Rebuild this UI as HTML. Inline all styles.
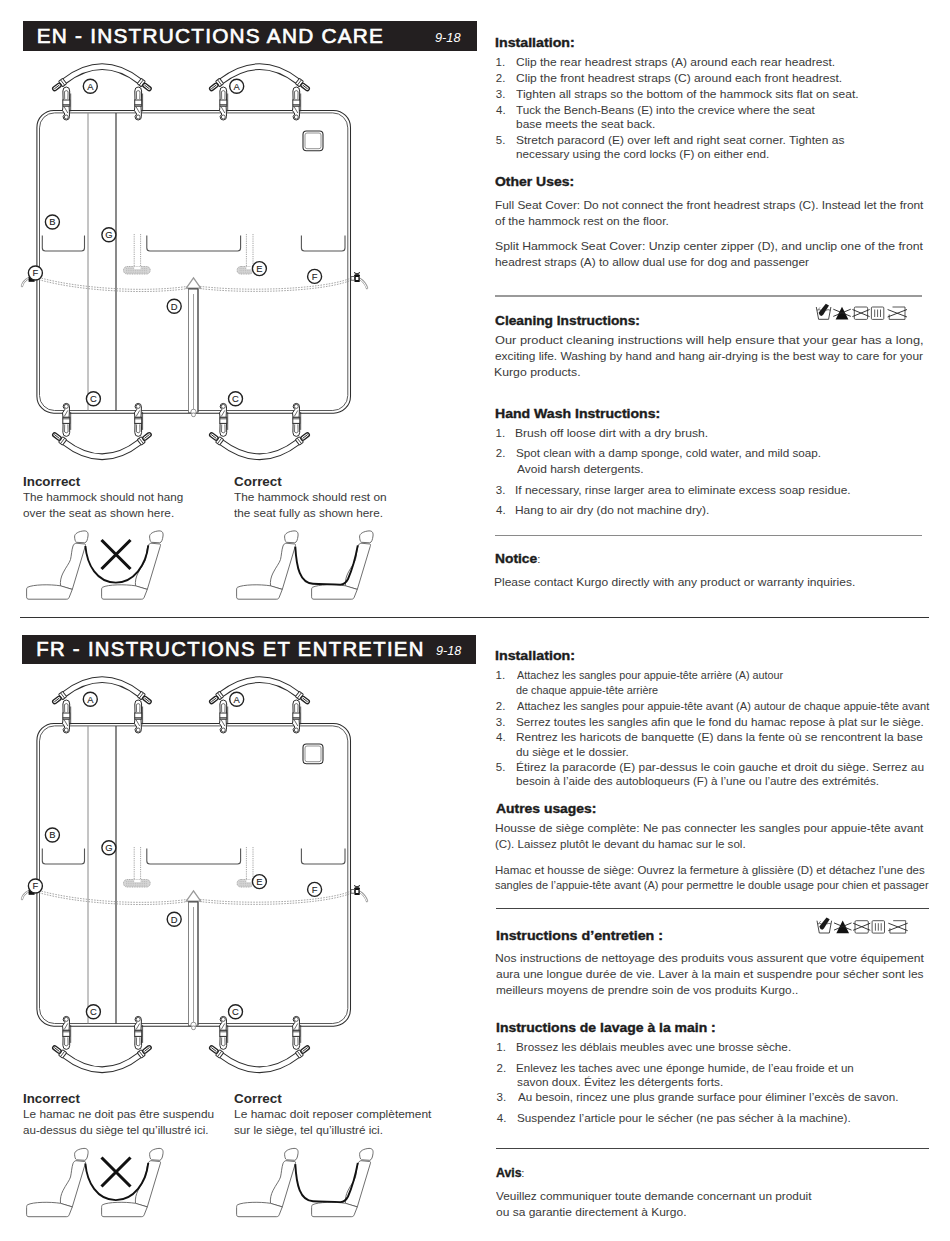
<!DOCTYPE html>
<html><head><meta charset="utf-8">
<style>
html,body{margin:0;padding:0;background:#fff;}
body{width:950px;height:1241px;position:relative;overflow:hidden;font-family:"Liberation Sans",sans-serif;}
.t{position:absolute;white-space:nowrap;transform-origin:0 0;}
.bar{position:absolute;background:#231f20;}
.hr{position:absolute;}
svg{position:absolute;left:0;top:0;}
</style></head><body>
<div class="bar" style="left:22.5px;top:21px;width:454px;height:29.5px"></div>
<div class="bar" style="left:22.4px;top:634.9px;width:454.1px;height:29.1px"></div>
<div class="hr" style="left:495px;top:295px;width:427px;height:1.5px;background:#9a9a9a"></div>
<div class="hr" style="left:495px;top:535px;width:427px;height:1px;background:#8a8a8a"></div>
<div class="hr" style="left:20px;top:617px;width:909px;height:1.2px;background:#333"></div>
<div class="hr" style="left:496px;top:908.3px;width:433px;height:1.2px;background:#444"></div>
<div class="hr" style="left:496px;top:1148.3px;width:433px;height:1.2px;background:#444"></div>
<svg width="950" height="1241" viewBox="0 0 950 1241">
<rect x="36.9" y="110.4" width="313.6" height="302.8" rx="17" fill="#fff" stroke="#2e2e2e" stroke-width="1.05"/><rect x="39.5" y="112.9" width="308.3" height="297.6" rx="15" fill="none" stroke="#5a5a5a" stroke-width="1.0"/><path d="M88 113 V410.5" stroke="#8a8a8a" stroke-width="1"/><path d="M116 113 V410.5" stroke="#333" stroke-width="1.15"/><rect x="303" y="131" width="20" height="19.7" rx="3.5" fill="none" stroke="#2e2e2e" stroke-width="1.1"/><rect x="305" y="133" width="16" height="15.7" rx="2" fill="none" stroke="#777" stroke-width="0.8"/><path d="M42.3 235.5 V248 Q42.3 251 45.3 251 H81.5 Q84.5 251 84.5 248 V235.5" fill="none" stroke="#555" stroke-width="1.1"/><path d="M146.8 235.5 V248 Q146.8 251 149.8 251 H237.6 Q240.6 251 240.6 248 V235.5" fill="none" stroke="#555" stroke-width="1.1"/><path d="M301.4 235.5 V248 Q301.4 251 304.4 251 H342 Q345 251 345 248 V235.5" fill="none" stroke="#555" stroke-width="1.1"/><path d="M134.2 234 V268 M140.6 234 V268" stroke="#9a9a9a" stroke-width="0.9" stroke-dasharray="1.2 1" fill="none"/><rect x="123.5" y="266.5" width="26.69999999999999" height="7.5" rx="3.7" fill="#d6d6d6" stroke="#a5a5a5" stroke-width="1" stroke-dasharray="1 0.7"/><path d="M126 268.6 H147.7 M126 270.4 H147.7 M126 272.2 H147.7" stroke="#b0b0b0" stroke-width="0.7" stroke-dasharray="1 0.8"/><rect x="134.2" y="266.6" width="6.400000000000006" height="2.6" fill="#fff"/><path d="M246.4 234 V268 M253 234 V268" stroke="#9a9a9a" stroke-width="0.9" stroke-dasharray="1.2 1" fill="none"/><rect x="237.1" y="266.5" width="15.900000000000006" height="7.5" rx="3.7" fill="#d6d6d6" stroke="#a5a5a5" stroke-width="1" stroke-dasharray="1 0.7"/><path d="M239.6 268.6 H250.5 M239.6 270.4 H250.5 M239.6 272.2 H250.5" stroke="#b0b0b0" stroke-width="0.7" stroke-dasharray="1 0.8"/><rect x="246.4" y="266.6" width="6.599999999999994" height="2.6" fill="#fff"/><path d="M39 277.5 C80 289 150 293 193 285.5 C240 292 320 290 350 278.5" fill="none" stroke="#9c9c9c" stroke-width="0.9" stroke-dasharray="1.6 1.2"/><path d="M39 279.7 C80 291.2 150 295.2 193 287.7 C240 294.2 320 292.2 350 280.7" fill="none" stroke="#9c9c9c" stroke-width="0.9" stroke-dasharray="1.6 1.2"/><path d="M186.3 288.2 L193.5 278 L200.7 288.2 Z" fill="#fff" stroke="#999" stroke-width="1.3"/><rect x="188.4" y="288.6" width="9.6" height="124" fill="#fff" stroke="#666" stroke-width="0.8"/><path d="M198 289 V412" stroke="#444" stroke-width="1.1"/><path d="M188.4 288.9 H198" stroke="#555" stroke-width="1.3"/><path d="M193.5 294 V412" stroke="#777" stroke-width="0.7"/><circle cx="193.5" cy="411.8" r="2.6" fill="#fff" stroke="#888" stroke-width="0.9"/><rect x="191.6" y="413" width="3.8" height="3.6" rx="1.5" fill="#fff" stroke="#888" stroke-width="0.9"/><path d="M29 278 Q23 281 22 286" stroke="#9a9a9a" stroke-width="2.4" fill="none" stroke-linecap="round"/><path d="M29 278 Q23 281 22 286" stroke="#fff" stroke-width="1" fill="none" stroke-linecap="round"/><rect x="28.6" y="277" width="6" height="4.8" fill="#111"/><path d="M360 279 Q365 282 367 288" stroke="#9a9a9a" stroke-width="2.4" fill="none" stroke-linecap="round"/><path d="M360 279 Q365 282 367 288" stroke="#fff" stroke-width="1" fill="none" stroke-linecap="round"/><rect x="351" y="276.6" width="3.4" height="3.6" fill="#fff" stroke="#444" stroke-width="0.8"/><rect x="354.5" y="275" width="5.2" height="7" fill="#111"/><path d="M354 272.5 L360 275.5 M360 272.5 L354 275.5" stroke="#111" stroke-width="1"/><rect x="355.8" y="277" width="2.6" height="3" fill="#fff"/><path d="M64.20 81.3 Q102.25 52.0 139.70 81.3" stroke="#2e2e2e" stroke-width="6.6" fill="none"/><path d="M64.20 81.3 Q102.25 52.0 139.70 81.3" stroke="#fff" stroke-width="4.6" fill="none"/><g transform="translate(64.20 81.3) rotate(142.4)"><rect x="-0.5" y="-3.4" width="5" height="6.8" rx="0.8" fill="#fff" stroke="#2e2e2e" stroke-width="1"/><path d="M2 -3.2 V3.2" stroke="#2e2e2e" stroke-width="0.8"/><rect x="4.5" y="-2" width="9.5" height="4" rx="2" fill="#fff" stroke="#222" stroke-width="1.35"/><path d="M6 0 H12.5" stroke="#2e2e2e" stroke-width="0.9"/></g><g transform="translate(139.70 81.3) rotate(38.0)"><rect x="-0.5" y="-3.4" width="5" height="6.8" rx="0.8" fill="#fff" stroke="#2e2e2e" stroke-width="1"/><path d="M2 -3.2 V3.2" stroke="#2e2e2e" stroke-width="0.8"/><rect x="4.5" y="-2" width="9.5" height="4" rx="2" fill="#fff" stroke="#222" stroke-width="1.35"/><path d="M6 0 H12.5" stroke="#2e2e2e" stroke-width="0.9"/></g><path d="M221.20 81.3 Q259.80 52.0 297.80 81.3" stroke="#2e2e2e" stroke-width="6.6" fill="none"/><path d="M221.20 81.3 Q259.80 52.0 297.80 81.3" stroke="#fff" stroke-width="4.6" fill="none"/><g transform="translate(221.20 81.3) rotate(142.8)"><rect x="-0.5" y="-3.4" width="5" height="6.8" rx="0.8" fill="#fff" stroke="#2e2e2e" stroke-width="1"/><path d="M2 -3.2 V3.2" stroke="#2e2e2e" stroke-width="0.8"/><rect x="4.5" y="-2" width="9.5" height="4" rx="2" fill="#fff" stroke="#222" stroke-width="1.35"/><path d="M6 0 H12.5" stroke="#2e2e2e" stroke-width="0.9"/></g><g transform="translate(297.80 81.3) rotate(37.6)"><rect x="-0.5" y="-3.4" width="5" height="6.8" rx="0.8" fill="#fff" stroke="#2e2e2e" stroke-width="1"/><path d="M2 -3.2 V3.2" stroke="#2e2e2e" stroke-width="0.8"/><rect x="4.5" y="-2" width="9.5" height="4" rx="2" fill="#fff" stroke="#222" stroke-width="1.35"/><path d="M6 0 H12.5" stroke="#2e2e2e" stroke-width="0.9"/></g><path d="M70.70 93.5 L70.70 111.5" stroke="#2e2e2e" stroke-width="0.8" fill="none"/><path d="M63.10 100.5 L62.90 91 Q62.90 87 66.30 87 Q69.70 87 69.70 91 L69.50 100.5 Z" fill="#fff" stroke="#2e2e2e" stroke-width="1"/><path d="M64.70 99 L64.50 91.5 Q66.30 89.6 68.10 91.5 L67.90 99" fill="none" stroke="#2e2e2e" stroke-width="0.7"/><rect x="62.80" y="100" width="7" height="6.2" fill="#fff" stroke="#2e2e2e" stroke-width="1"/><path d="M62.80 104.6 H69.80" stroke="#2e2e2e" stroke-width="0.8"/><path d="M63.00 106.2 L62.50 110.5 L64.80 114 L63.10 116.5 Q63.10 120 66.30 120 Q69.50 120 69.50 116.5 L69.30 110 L69.10 106.2 Z" fill="#fff" stroke="#2e2e2e" stroke-width="1"/><path d="M64.30 107 L67.80 113" stroke="#2e2e2e" stroke-width="0.7"/><circle cx="66.30" cy="117" r="2" fill="none" stroke="#555" stroke-width="1"/><path d="M142.60 93.5 L142.60 111.5" stroke="#2e2e2e" stroke-width="0.8" fill="none"/><path d="M135.00 100.5 L134.80 91 Q134.80 87 138.20 87 Q141.60 87 141.60 91 L141.40 100.5 Z" fill="#fff" stroke="#2e2e2e" stroke-width="1"/><path d="M136.60 99 L136.40 91.5 Q138.20 89.6 140.00 91.5 L139.80 99" fill="none" stroke="#2e2e2e" stroke-width="0.7"/><rect x="134.70" y="100" width="7" height="6.2" fill="#fff" stroke="#2e2e2e" stroke-width="1"/><path d="M134.70 104.6 H141.70" stroke="#2e2e2e" stroke-width="0.8"/><path d="M134.90 106.2 L134.40 110.5 L136.70 114 L135.00 116.5 Q135.00 120 138.20 120 Q141.40 120 141.40 116.5 L141.20 110 L141.00 106.2 Z" fill="#fff" stroke="#2e2e2e" stroke-width="1"/><path d="M136.20 107 L139.70 113" stroke="#2e2e2e" stroke-width="0.7"/><circle cx="138.20" cy="117" r="2" fill="none" stroke="#555" stroke-width="1"/><path d="M227.70 93.5 L227.70 111.5" stroke="#2e2e2e" stroke-width="0.8" fill="none"/><path d="M220.10 100.5 L219.90 91 Q219.90 87 223.30 87 Q226.70 87 226.70 91 L226.50 100.5 Z" fill="#fff" stroke="#2e2e2e" stroke-width="1"/><path d="M221.70 99 L221.50 91.5 Q223.30 89.6 225.10 91.5 L224.90 99" fill="none" stroke="#2e2e2e" stroke-width="0.7"/><rect x="219.80" y="100" width="7" height="6.2" fill="#fff" stroke="#2e2e2e" stroke-width="1"/><path d="M219.80 104.6 H226.80" stroke="#2e2e2e" stroke-width="0.8"/><path d="M220.00 106.2 L219.50 110.5 L221.80 114 L220.10 116.5 Q220.10 120 223.30 120 Q226.50 120 226.50 116.5 L226.30 110 L226.10 106.2 Z" fill="#fff" stroke="#2e2e2e" stroke-width="1"/><path d="M221.30 107 L224.80 113" stroke="#2e2e2e" stroke-width="0.7"/><circle cx="223.30" cy="117" r="2" fill="none" stroke="#555" stroke-width="1"/><path d="M300.70 93.5 L300.70 111.5" stroke="#2e2e2e" stroke-width="0.8" fill="none"/><path d="M293.10 100.5 L292.90 91 Q292.90 87 296.30 87 Q299.70 87 299.70 91 L299.50 100.5 Z" fill="#fff" stroke="#2e2e2e" stroke-width="1"/><path d="M294.70 99 L294.50 91.5 Q296.30 89.6 298.10 91.5 L297.90 99" fill="none" stroke="#2e2e2e" stroke-width="0.7"/><rect x="292.80" y="100" width="7" height="6.2" fill="#fff" stroke="#2e2e2e" stroke-width="1"/><path d="M292.80 104.6 H299.80" stroke="#2e2e2e" stroke-width="0.8"/><path d="M293.00 106.2 L292.50 110.5 L294.80 114 L293.10 116.5 Q293.10 120 296.30 120 Q299.50 120 299.50 116.5 L299.30 110 L299.10 106.2 Z" fill="#fff" stroke="#2e2e2e" stroke-width="1"/><path d="M294.30 107 L297.80 113" stroke="#2e2e2e" stroke-width="0.7"/><circle cx="296.30" cy="117" r="2" fill="none" stroke="#555" stroke-width="1"/><g transform="matrix(1 0 0 -1 0 523.4)"><path d="M64.20 81.3 Q102.25 52.0 139.70 81.3" stroke="#2e2e2e" stroke-width="6.6" fill="none"/><path d="M64.20 81.3 Q102.25 52.0 139.70 81.3" stroke="#fff" stroke-width="4.6" fill="none"/><g transform="translate(64.20 81.3) rotate(142.4)"><rect x="-0.5" y="-3.4" width="5" height="6.8" rx="0.8" fill="#fff" stroke="#2e2e2e" stroke-width="1"/><path d="M2 -3.2 V3.2" stroke="#2e2e2e" stroke-width="0.8"/><rect x="4.5" y="-2" width="9.5" height="4" rx="2" fill="#fff" stroke="#222" stroke-width="1.35"/><path d="M6 0 H12.5" stroke="#2e2e2e" stroke-width="0.9"/></g><g transform="translate(139.70 81.3) rotate(38.0)"><rect x="-0.5" y="-3.4" width="5" height="6.8" rx="0.8" fill="#fff" stroke="#2e2e2e" stroke-width="1"/><path d="M2 -3.2 V3.2" stroke="#2e2e2e" stroke-width="0.8"/><rect x="4.5" y="-2" width="9.5" height="4" rx="2" fill="#fff" stroke="#222" stroke-width="1.35"/><path d="M6 0 H12.5" stroke="#2e2e2e" stroke-width="0.9"/></g><path d="M221.20 81.3 Q259.80 52.0 297.80 81.3" stroke="#2e2e2e" stroke-width="6.6" fill="none"/><path d="M221.20 81.3 Q259.80 52.0 297.80 81.3" stroke="#fff" stroke-width="4.6" fill="none"/><g transform="translate(221.20 81.3) rotate(142.8)"><rect x="-0.5" y="-3.4" width="5" height="6.8" rx="0.8" fill="#fff" stroke="#2e2e2e" stroke-width="1"/><path d="M2 -3.2 V3.2" stroke="#2e2e2e" stroke-width="0.8"/><rect x="4.5" y="-2" width="9.5" height="4" rx="2" fill="#fff" stroke="#222" stroke-width="1.35"/><path d="M6 0 H12.5" stroke="#2e2e2e" stroke-width="0.9"/></g><g transform="translate(297.80 81.3) rotate(37.6)"><rect x="-0.5" y="-3.4" width="5" height="6.8" rx="0.8" fill="#fff" stroke="#2e2e2e" stroke-width="1"/><path d="M2 -3.2 V3.2" stroke="#2e2e2e" stroke-width="0.8"/><rect x="4.5" y="-2" width="9.5" height="4" rx="2" fill="#fff" stroke="#222" stroke-width="1.35"/><path d="M6 0 H12.5" stroke="#2e2e2e" stroke-width="0.9"/></g><path d="M70.70 93.5 L70.70 111.5" stroke="#2e2e2e" stroke-width="0.8" fill="none"/><path d="M63.10 100.5 L62.90 91 Q62.90 87 66.30 87 Q69.70 87 69.70 91 L69.50 100.5 Z" fill="#fff" stroke="#2e2e2e" stroke-width="1"/><path d="M64.70 99 L64.50 91.5 Q66.30 89.6 68.10 91.5 L67.90 99" fill="none" stroke="#2e2e2e" stroke-width="0.7"/><rect x="62.80" y="100" width="7" height="6.2" fill="#fff" stroke="#2e2e2e" stroke-width="1"/><path d="M62.80 104.6 H69.80" stroke="#2e2e2e" stroke-width="0.8"/><path d="M63.00 106.2 L62.50 110.5 L64.80 114 L63.10 116.5 Q63.10 120 66.30 120 Q69.50 120 69.50 116.5 L69.30 110 L69.10 106.2 Z" fill="#fff" stroke="#2e2e2e" stroke-width="1"/><path d="M64.30 107 L67.80 113" stroke="#2e2e2e" stroke-width="0.7"/><circle cx="66.30" cy="117" r="2" fill="none" stroke="#555" stroke-width="1"/><path d="M142.60 93.5 L142.60 111.5" stroke="#2e2e2e" stroke-width="0.8" fill="none"/><path d="M135.00 100.5 L134.80 91 Q134.80 87 138.20 87 Q141.60 87 141.60 91 L141.40 100.5 Z" fill="#fff" stroke="#2e2e2e" stroke-width="1"/><path d="M136.60 99 L136.40 91.5 Q138.20 89.6 140.00 91.5 L139.80 99" fill="none" stroke="#2e2e2e" stroke-width="0.7"/><rect x="134.70" y="100" width="7" height="6.2" fill="#fff" stroke="#2e2e2e" stroke-width="1"/><path d="M134.70 104.6 H141.70" stroke="#2e2e2e" stroke-width="0.8"/><path d="M134.90 106.2 L134.40 110.5 L136.70 114 L135.00 116.5 Q135.00 120 138.20 120 Q141.40 120 141.40 116.5 L141.20 110 L141.00 106.2 Z" fill="#fff" stroke="#2e2e2e" stroke-width="1"/><path d="M136.20 107 L139.70 113" stroke="#2e2e2e" stroke-width="0.7"/><circle cx="138.20" cy="117" r="2" fill="none" stroke="#555" stroke-width="1"/><path d="M227.70 93.5 L227.70 111.5" stroke="#2e2e2e" stroke-width="0.8" fill="none"/><path d="M220.10 100.5 L219.90 91 Q219.90 87 223.30 87 Q226.70 87 226.70 91 L226.50 100.5 Z" fill="#fff" stroke="#2e2e2e" stroke-width="1"/><path d="M221.70 99 L221.50 91.5 Q223.30 89.6 225.10 91.5 L224.90 99" fill="none" stroke="#2e2e2e" stroke-width="0.7"/><rect x="219.80" y="100" width="7" height="6.2" fill="#fff" stroke="#2e2e2e" stroke-width="1"/><path d="M219.80 104.6 H226.80" stroke="#2e2e2e" stroke-width="0.8"/><path d="M220.00 106.2 L219.50 110.5 L221.80 114 L220.10 116.5 Q220.10 120 223.30 120 Q226.50 120 226.50 116.5 L226.30 110 L226.10 106.2 Z" fill="#fff" stroke="#2e2e2e" stroke-width="1"/><path d="M221.30 107 L224.80 113" stroke="#2e2e2e" stroke-width="0.7"/><circle cx="223.30" cy="117" r="2" fill="none" stroke="#555" stroke-width="1"/><path d="M300.70 93.5 L300.70 111.5" stroke="#2e2e2e" stroke-width="0.8" fill="none"/><path d="M293.10 100.5 L292.90 91 Q292.90 87 296.30 87 Q299.70 87 299.70 91 L299.50 100.5 Z" fill="#fff" stroke="#2e2e2e" stroke-width="1"/><path d="M294.70 99 L294.50 91.5 Q296.30 89.6 298.10 91.5 L297.90 99" fill="none" stroke="#2e2e2e" stroke-width="0.7"/><rect x="292.80" y="100" width="7" height="6.2" fill="#fff" stroke="#2e2e2e" stroke-width="1"/><path d="M292.80 104.6 H299.80" stroke="#2e2e2e" stroke-width="0.8"/><path d="M293.00 106.2 L292.50 110.5 L294.80 114 L293.10 116.5 Q293.10 120 296.30 120 Q299.50 120 299.50 116.5 L299.30 110 L299.10 106.2 Z" fill="#fff" stroke="#2e2e2e" stroke-width="1"/><path d="M294.30 107 L297.80 113" stroke="#2e2e2e" stroke-width="0.7"/><circle cx="296.30" cy="117" r="2" fill="none" stroke="#555" stroke-width="1"/></g><circle cx="90.3" cy="86.2" r="7.0" fill="#fff" stroke="#222" stroke-width="1.4"/><text x="90.3" y="89.50" font-family="Liberation Sans" font-size="9.4" text-anchor="middle" fill="#222" stroke="#222" stroke-width="0.1">A</text><circle cx="236.7" cy="86.3" r="7.0" fill="#fff" stroke="#222" stroke-width="1.4"/><text x="236.7" y="89.60" font-family="Liberation Sans" font-size="9.4" text-anchor="middle" fill="#222" stroke="#222" stroke-width="0.1">A</text><circle cx="52.4" cy="222" r="7.0" fill="#fff" stroke="#222" stroke-width="1.4"/><text x="52.4" y="225.30" font-family="Liberation Sans" font-size="9.4" text-anchor="middle" fill="#222" stroke="#222" stroke-width="0.1">B</text><circle cx="108.9" cy="234.7" r="7.0" fill="#fff" stroke="#222" stroke-width="1.4"/><text x="108.9" y="238.00" font-family="Liberation Sans" font-size="9.4" text-anchor="middle" fill="#222" stroke="#222" stroke-width="0.1">G</text><circle cx="259.4" cy="268.6" r="7.0" fill="#fff" stroke="#222" stroke-width="1.4"/><text x="259.4" y="271.90" font-family="Liberation Sans" font-size="9.4" text-anchor="middle" fill="#222" stroke="#222" stroke-width="0.1">E</text><circle cx="35.4" cy="273" r="7.0" fill="#fff" stroke="#222" stroke-width="1.4"/><text x="35.4" y="276.30" font-family="Liberation Sans" font-size="9.4" text-anchor="middle" fill="#222" stroke="#222" stroke-width="0.1">F</text><circle cx="314.6" cy="276.4" r="7.0" fill="#fff" stroke="#222" stroke-width="1.4"/><text x="314.6" y="279.70" font-family="Liberation Sans" font-size="9.4" text-anchor="middle" fill="#222" stroke="#222" stroke-width="0.1">F</text><circle cx="174.2" cy="306.2" r="7.0" fill="#fff" stroke="#222" stroke-width="1.4"/><text x="174.2" y="309.50" font-family="Liberation Sans" font-size="9.4" text-anchor="middle" fill="#222" stroke="#222" stroke-width="0.1">D</text><circle cx="93.4" cy="398.7" r="7.0" fill="#fff" stroke="#222" stroke-width="1.4"/><text x="93.4" y="402.00" font-family="Liberation Sans" font-size="9.4" text-anchor="middle" fill="#222" stroke="#222" stroke-width="0.1">C</text><circle cx="235.5" cy="398.7" r="7.0" fill="#fff" stroke="#222" stroke-width="1.4"/><text x="235.5" y="402.00" font-family="Liberation Sans" font-size="9.4" text-anchor="middle" fill="#222" stroke="#222" stroke-width="0.1">C</text><g transform="translate(0 613)"><rect x="36.9" y="110.4" width="313.6" height="302.8" rx="17" fill="#fff" stroke="#2e2e2e" stroke-width="1.05"/><rect x="39.5" y="112.9" width="308.3" height="297.6" rx="15" fill="none" stroke="#5a5a5a" stroke-width="1.0"/><path d="M88 113 V410.5" stroke="#8a8a8a" stroke-width="1"/><path d="M116 113 V410.5" stroke="#333" stroke-width="1.15"/><rect x="303" y="131" width="20" height="19.7" rx="3.5" fill="none" stroke="#2e2e2e" stroke-width="1.1"/><rect x="305" y="133" width="16" height="15.7" rx="2" fill="none" stroke="#777" stroke-width="0.8"/><path d="M42.3 235.5 V248 Q42.3 251 45.3 251 H81.5 Q84.5 251 84.5 248 V235.5" fill="none" stroke="#555" stroke-width="1.1"/><path d="M146.8 235.5 V248 Q146.8 251 149.8 251 H237.6 Q240.6 251 240.6 248 V235.5" fill="none" stroke="#555" stroke-width="1.1"/><path d="M301.4 235.5 V248 Q301.4 251 304.4 251 H342 Q345 251 345 248 V235.5" fill="none" stroke="#555" stroke-width="1.1"/><path d="M134.2 234 V268 M140.6 234 V268" stroke="#9a9a9a" stroke-width="0.9" stroke-dasharray="1.2 1" fill="none"/><rect x="123.5" y="266.5" width="26.69999999999999" height="7.5" rx="3.7" fill="#d6d6d6" stroke="#a5a5a5" stroke-width="1" stroke-dasharray="1 0.7"/><path d="M126 268.6 H147.7 M126 270.4 H147.7 M126 272.2 H147.7" stroke="#b0b0b0" stroke-width="0.7" stroke-dasharray="1 0.8"/><rect x="134.2" y="266.6" width="6.400000000000006" height="2.6" fill="#fff"/><path d="M246.4 234 V268 M253 234 V268" stroke="#9a9a9a" stroke-width="0.9" stroke-dasharray="1.2 1" fill="none"/><rect x="237.1" y="266.5" width="15.900000000000006" height="7.5" rx="3.7" fill="#d6d6d6" stroke="#a5a5a5" stroke-width="1" stroke-dasharray="1 0.7"/><path d="M239.6 268.6 H250.5 M239.6 270.4 H250.5 M239.6 272.2 H250.5" stroke="#b0b0b0" stroke-width="0.7" stroke-dasharray="1 0.8"/><rect x="246.4" y="266.6" width="6.599999999999994" height="2.6" fill="#fff"/><path d="M39 277.5 C80 289 150 293 193 285.5 C240 292 320 290 350 278.5" fill="none" stroke="#9c9c9c" stroke-width="0.9" stroke-dasharray="1.6 1.2"/><path d="M39 279.7 C80 291.2 150 295.2 193 287.7 C240 294.2 320 292.2 350 280.7" fill="none" stroke="#9c9c9c" stroke-width="0.9" stroke-dasharray="1.6 1.2"/><path d="M186.3 288.2 L193.5 278 L200.7 288.2 Z" fill="#fff" stroke="#999" stroke-width="1.3"/><rect x="188.4" y="288.6" width="9.6" height="124" fill="#fff" stroke="#666" stroke-width="0.8"/><path d="M198 289 V412" stroke="#444" stroke-width="1.1"/><path d="M188.4 288.9 H198" stroke="#555" stroke-width="1.3"/><path d="M193.5 294 V412" stroke="#777" stroke-width="0.7"/><circle cx="193.5" cy="411.8" r="2.6" fill="#fff" stroke="#888" stroke-width="0.9"/><rect x="191.6" y="413" width="3.8" height="3.6" rx="1.5" fill="#fff" stroke="#888" stroke-width="0.9"/><path d="M29 278 Q23 281 22 286" stroke="#9a9a9a" stroke-width="2.4" fill="none" stroke-linecap="round"/><path d="M29 278 Q23 281 22 286" stroke="#fff" stroke-width="1" fill="none" stroke-linecap="round"/><rect x="28.6" y="277" width="6" height="4.8" fill="#111"/><path d="M360 279 Q365 282 367 288" stroke="#9a9a9a" stroke-width="2.4" fill="none" stroke-linecap="round"/><path d="M360 279 Q365 282 367 288" stroke="#fff" stroke-width="1" fill="none" stroke-linecap="round"/><rect x="351" y="276.6" width="3.4" height="3.6" fill="#fff" stroke="#444" stroke-width="0.8"/><rect x="354.5" y="275" width="5.2" height="7" fill="#111"/><path d="M354 272.5 L360 275.5 M360 272.5 L354 275.5" stroke="#111" stroke-width="1"/><rect x="355.8" y="277" width="2.6" height="3" fill="#fff"/><path d="M64.20 81.3 Q102.25 52.0 139.70 81.3" stroke="#2e2e2e" stroke-width="6.6" fill="none"/><path d="M64.20 81.3 Q102.25 52.0 139.70 81.3" stroke="#fff" stroke-width="4.6" fill="none"/><g transform="translate(64.20 81.3) rotate(142.4)"><rect x="-0.5" y="-3.4" width="5" height="6.8" rx="0.8" fill="#fff" stroke="#2e2e2e" stroke-width="1"/><path d="M2 -3.2 V3.2" stroke="#2e2e2e" stroke-width="0.8"/><rect x="4.5" y="-2" width="9.5" height="4" rx="2" fill="#fff" stroke="#222" stroke-width="1.35"/><path d="M6 0 H12.5" stroke="#2e2e2e" stroke-width="0.9"/></g><g transform="translate(139.70 81.3) rotate(38.0)"><rect x="-0.5" y="-3.4" width="5" height="6.8" rx="0.8" fill="#fff" stroke="#2e2e2e" stroke-width="1"/><path d="M2 -3.2 V3.2" stroke="#2e2e2e" stroke-width="0.8"/><rect x="4.5" y="-2" width="9.5" height="4" rx="2" fill="#fff" stroke="#222" stroke-width="1.35"/><path d="M6 0 H12.5" stroke="#2e2e2e" stroke-width="0.9"/></g><path d="M221.20 81.3 Q259.80 52.0 297.80 81.3" stroke="#2e2e2e" stroke-width="6.6" fill="none"/><path d="M221.20 81.3 Q259.80 52.0 297.80 81.3" stroke="#fff" stroke-width="4.6" fill="none"/><g transform="translate(221.20 81.3) rotate(142.8)"><rect x="-0.5" y="-3.4" width="5" height="6.8" rx="0.8" fill="#fff" stroke="#2e2e2e" stroke-width="1"/><path d="M2 -3.2 V3.2" stroke="#2e2e2e" stroke-width="0.8"/><rect x="4.5" y="-2" width="9.5" height="4" rx="2" fill="#fff" stroke="#222" stroke-width="1.35"/><path d="M6 0 H12.5" stroke="#2e2e2e" stroke-width="0.9"/></g><g transform="translate(297.80 81.3) rotate(37.6)"><rect x="-0.5" y="-3.4" width="5" height="6.8" rx="0.8" fill="#fff" stroke="#2e2e2e" stroke-width="1"/><path d="M2 -3.2 V3.2" stroke="#2e2e2e" stroke-width="0.8"/><rect x="4.5" y="-2" width="9.5" height="4" rx="2" fill="#fff" stroke="#222" stroke-width="1.35"/><path d="M6 0 H12.5" stroke="#2e2e2e" stroke-width="0.9"/></g><path d="M70.70 93.5 L70.70 111.5" stroke="#2e2e2e" stroke-width="0.8" fill="none"/><path d="M63.10 100.5 L62.90 91 Q62.90 87 66.30 87 Q69.70 87 69.70 91 L69.50 100.5 Z" fill="#fff" stroke="#2e2e2e" stroke-width="1"/><path d="M64.70 99 L64.50 91.5 Q66.30 89.6 68.10 91.5 L67.90 99" fill="none" stroke="#2e2e2e" stroke-width="0.7"/><rect x="62.80" y="100" width="7" height="6.2" fill="#fff" stroke="#2e2e2e" stroke-width="1"/><path d="M62.80 104.6 H69.80" stroke="#2e2e2e" stroke-width="0.8"/><path d="M63.00 106.2 L62.50 110.5 L64.80 114 L63.10 116.5 Q63.10 120 66.30 120 Q69.50 120 69.50 116.5 L69.30 110 L69.10 106.2 Z" fill="#fff" stroke="#2e2e2e" stroke-width="1"/><path d="M64.30 107 L67.80 113" stroke="#2e2e2e" stroke-width="0.7"/><circle cx="66.30" cy="117" r="2" fill="none" stroke="#555" stroke-width="1"/><path d="M142.60 93.5 L142.60 111.5" stroke="#2e2e2e" stroke-width="0.8" fill="none"/><path d="M135.00 100.5 L134.80 91 Q134.80 87 138.20 87 Q141.60 87 141.60 91 L141.40 100.5 Z" fill="#fff" stroke="#2e2e2e" stroke-width="1"/><path d="M136.60 99 L136.40 91.5 Q138.20 89.6 140.00 91.5 L139.80 99" fill="none" stroke="#2e2e2e" stroke-width="0.7"/><rect x="134.70" y="100" width="7" height="6.2" fill="#fff" stroke="#2e2e2e" stroke-width="1"/><path d="M134.70 104.6 H141.70" stroke="#2e2e2e" stroke-width="0.8"/><path d="M134.90 106.2 L134.40 110.5 L136.70 114 L135.00 116.5 Q135.00 120 138.20 120 Q141.40 120 141.40 116.5 L141.20 110 L141.00 106.2 Z" fill="#fff" stroke="#2e2e2e" stroke-width="1"/><path d="M136.20 107 L139.70 113" stroke="#2e2e2e" stroke-width="0.7"/><circle cx="138.20" cy="117" r="2" fill="none" stroke="#555" stroke-width="1"/><path d="M227.70 93.5 L227.70 111.5" stroke="#2e2e2e" stroke-width="0.8" fill="none"/><path d="M220.10 100.5 L219.90 91 Q219.90 87 223.30 87 Q226.70 87 226.70 91 L226.50 100.5 Z" fill="#fff" stroke="#2e2e2e" stroke-width="1"/><path d="M221.70 99 L221.50 91.5 Q223.30 89.6 225.10 91.5 L224.90 99" fill="none" stroke="#2e2e2e" stroke-width="0.7"/><rect x="219.80" y="100" width="7" height="6.2" fill="#fff" stroke="#2e2e2e" stroke-width="1"/><path d="M219.80 104.6 H226.80" stroke="#2e2e2e" stroke-width="0.8"/><path d="M220.00 106.2 L219.50 110.5 L221.80 114 L220.10 116.5 Q220.10 120 223.30 120 Q226.50 120 226.50 116.5 L226.30 110 L226.10 106.2 Z" fill="#fff" stroke="#2e2e2e" stroke-width="1"/><path d="M221.30 107 L224.80 113" stroke="#2e2e2e" stroke-width="0.7"/><circle cx="223.30" cy="117" r="2" fill="none" stroke="#555" stroke-width="1"/><path d="M300.70 93.5 L300.70 111.5" stroke="#2e2e2e" stroke-width="0.8" fill="none"/><path d="M293.10 100.5 L292.90 91 Q292.90 87 296.30 87 Q299.70 87 299.70 91 L299.50 100.5 Z" fill="#fff" stroke="#2e2e2e" stroke-width="1"/><path d="M294.70 99 L294.50 91.5 Q296.30 89.6 298.10 91.5 L297.90 99" fill="none" stroke="#2e2e2e" stroke-width="0.7"/><rect x="292.80" y="100" width="7" height="6.2" fill="#fff" stroke="#2e2e2e" stroke-width="1"/><path d="M292.80 104.6 H299.80" stroke="#2e2e2e" stroke-width="0.8"/><path d="M293.00 106.2 L292.50 110.5 L294.80 114 L293.10 116.5 Q293.10 120 296.30 120 Q299.50 120 299.50 116.5 L299.30 110 L299.10 106.2 Z" fill="#fff" stroke="#2e2e2e" stroke-width="1"/><path d="M294.30 107 L297.80 113" stroke="#2e2e2e" stroke-width="0.7"/><circle cx="296.30" cy="117" r="2" fill="none" stroke="#555" stroke-width="1"/><g transform="matrix(1 0 0 -1 0 523.4)"><path d="M64.20 81.3 Q102.25 52.0 139.70 81.3" stroke="#2e2e2e" stroke-width="6.6" fill="none"/><path d="M64.20 81.3 Q102.25 52.0 139.70 81.3" stroke="#fff" stroke-width="4.6" fill="none"/><g transform="translate(64.20 81.3) rotate(142.4)"><rect x="-0.5" y="-3.4" width="5" height="6.8" rx="0.8" fill="#fff" stroke="#2e2e2e" stroke-width="1"/><path d="M2 -3.2 V3.2" stroke="#2e2e2e" stroke-width="0.8"/><rect x="4.5" y="-2" width="9.5" height="4" rx="2" fill="#fff" stroke="#222" stroke-width="1.35"/><path d="M6 0 H12.5" stroke="#2e2e2e" stroke-width="0.9"/></g><g transform="translate(139.70 81.3) rotate(38.0)"><rect x="-0.5" y="-3.4" width="5" height="6.8" rx="0.8" fill="#fff" stroke="#2e2e2e" stroke-width="1"/><path d="M2 -3.2 V3.2" stroke="#2e2e2e" stroke-width="0.8"/><rect x="4.5" y="-2" width="9.5" height="4" rx="2" fill="#fff" stroke="#222" stroke-width="1.35"/><path d="M6 0 H12.5" stroke="#2e2e2e" stroke-width="0.9"/></g><path d="M221.20 81.3 Q259.80 52.0 297.80 81.3" stroke="#2e2e2e" stroke-width="6.6" fill="none"/><path d="M221.20 81.3 Q259.80 52.0 297.80 81.3" stroke="#fff" stroke-width="4.6" fill="none"/><g transform="translate(221.20 81.3) rotate(142.8)"><rect x="-0.5" y="-3.4" width="5" height="6.8" rx="0.8" fill="#fff" stroke="#2e2e2e" stroke-width="1"/><path d="M2 -3.2 V3.2" stroke="#2e2e2e" stroke-width="0.8"/><rect x="4.5" y="-2" width="9.5" height="4" rx="2" fill="#fff" stroke="#222" stroke-width="1.35"/><path d="M6 0 H12.5" stroke="#2e2e2e" stroke-width="0.9"/></g><g transform="translate(297.80 81.3) rotate(37.6)"><rect x="-0.5" y="-3.4" width="5" height="6.8" rx="0.8" fill="#fff" stroke="#2e2e2e" stroke-width="1"/><path d="M2 -3.2 V3.2" stroke="#2e2e2e" stroke-width="0.8"/><rect x="4.5" y="-2" width="9.5" height="4" rx="2" fill="#fff" stroke="#222" stroke-width="1.35"/><path d="M6 0 H12.5" stroke="#2e2e2e" stroke-width="0.9"/></g><path d="M70.70 93.5 L70.70 111.5" stroke="#2e2e2e" stroke-width="0.8" fill="none"/><path d="M63.10 100.5 L62.90 91 Q62.90 87 66.30 87 Q69.70 87 69.70 91 L69.50 100.5 Z" fill="#fff" stroke="#2e2e2e" stroke-width="1"/><path d="M64.70 99 L64.50 91.5 Q66.30 89.6 68.10 91.5 L67.90 99" fill="none" stroke="#2e2e2e" stroke-width="0.7"/><rect x="62.80" y="100" width="7" height="6.2" fill="#fff" stroke="#2e2e2e" stroke-width="1"/><path d="M62.80 104.6 H69.80" stroke="#2e2e2e" stroke-width="0.8"/><path d="M63.00 106.2 L62.50 110.5 L64.80 114 L63.10 116.5 Q63.10 120 66.30 120 Q69.50 120 69.50 116.5 L69.30 110 L69.10 106.2 Z" fill="#fff" stroke="#2e2e2e" stroke-width="1"/><path d="M64.30 107 L67.80 113" stroke="#2e2e2e" stroke-width="0.7"/><circle cx="66.30" cy="117" r="2" fill="none" stroke="#555" stroke-width="1"/><path d="M142.60 93.5 L142.60 111.5" stroke="#2e2e2e" stroke-width="0.8" fill="none"/><path d="M135.00 100.5 L134.80 91 Q134.80 87 138.20 87 Q141.60 87 141.60 91 L141.40 100.5 Z" fill="#fff" stroke="#2e2e2e" stroke-width="1"/><path d="M136.60 99 L136.40 91.5 Q138.20 89.6 140.00 91.5 L139.80 99" fill="none" stroke="#2e2e2e" stroke-width="0.7"/><rect x="134.70" y="100" width="7" height="6.2" fill="#fff" stroke="#2e2e2e" stroke-width="1"/><path d="M134.70 104.6 H141.70" stroke="#2e2e2e" stroke-width="0.8"/><path d="M134.90 106.2 L134.40 110.5 L136.70 114 L135.00 116.5 Q135.00 120 138.20 120 Q141.40 120 141.40 116.5 L141.20 110 L141.00 106.2 Z" fill="#fff" stroke="#2e2e2e" stroke-width="1"/><path d="M136.20 107 L139.70 113" stroke="#2e2e2e" stroke-width="0.7"/><circle cx="138.20" cy="117" r="2" fill="none" stroke="#555" stroke-width="1"/><path d="M227.70 93.5 L227.70 111.5" stroke="#2e2e2e" stroke-width="0.8" fill="none"/><path d="M220.10 100.5 L219.90 91 Q219.90 87 223.30 87 Q226.70 87 226.70 91 L226.50 100.5 Z" fill="#fff" stroke="#2e2e2e" stroke-width="1"/><path d="M221.70 99 L221.50 91.5 Q223.30 89.6 225.10 91.5 L224.90 99" fill="none" stroke="#2e2e2e" stroke-width="0.7"/><rect x="219.80" y="100" width="7" height="6.2" fill="#fff" stroke="#2e2e2e" stroke-width="1"/><path d="M219.80 104.6 H226.80" stroke="#2e2e2e" stroke-width="0.8"/><path d="M220.00 106.2 L219.50 110.5 L221.80 114 L220.10 116.5 Q220.10 120 223.30 120 Q226.50 120 226.50 116.5 L226.30 110 L226.10 106.2 Z" fill="#fff" stroke="#2e2e2e" stroke-width="1"/><path d="M221.30 107 L224.80 113" stroke="#2e2e2e" stroke-width="0.7"/><circle cx="223.30" cy="117" r="2" fill="none" stroke="#555" stroke-width="1"/><path d="M300.70 93.5 L300.70 111.5" stroke="#2e2e2e" stroke-width="0.8" fill="none"/><path d="M293.10 100.5 L292.90 91 Q292.90 87 296.30 87 Q299.70 87 299.70 91 L299.50 100.5 Z" fill="#fff" stroke="#2e2e2e" stroke-width="1"/><path d="M294.70 99 L294.50 91.5 Q296.30 89.6 298.10 91.5 L297.90 99" fill="none" stroke="#2e2e2e" stroke-width="0.7"/><rect x="292.80" y="100" width="7" height="6.2" fill="#fff" stroke="#2e2e2e" stroke-width="1"/><path d="M292.80 104.6 H299.80" stroke="#2e2e2e" stroke-width="0.8"/><path d="M293.00 106.2 L292.50 110.5 L294.80 114 L293.10 116.5 Q293.10 120 296.30 120 Q299.50 120 299.50 116.5 L299.30 110 L299.10 106.2 Z" fill="#fff" stroke="#2e2e2e" stroke-width="1"/><path d="M294.30 107 L297.80 113" stroke="#2e2e2e" stroke-width="0.7"/><circle cx="296.30" cy="117" r="2" fill="none" stroke="#555" stroke-width="1"/></g><circle cx="90.3" cy="86.2" r="7.0" fill="#fff" stroke="#222" stroke-width="1.4"/><text x="90.3" y="89.50" font-family="Liberation Sans" font-size="9.4" text-anchor="middle" fill="#222" stroke="#222" stroke-width="0.1">A</text><circle cx="236.7" cy="86.3" r="7.0" fill="#fff" stroke="#222" stroke-width="1.4"/><text x="236.7" y="89.60" font-family="Liberation Sans" font-size="9.4" text-anchor="middle" fill="#222" stroke="#222" stroke-width="0.1">A</text><circle cx="52.4" cy="222" r="7.0" fill="#fff" stroke="#222" stroke-width="1.4"/><text x="52.4" y="225.30" font-family="Liberation Sans" font-size="9.4" text-anchor="middle" fill="#222" stroke="#222" stroke-width="0.1">B</text><circle cx="108.9" cy="234.7" r="7.0" fill="#fff" stroke="#222" stroke-width="1.4"/><text x="108.9" y="238.00" font-family="Liberation Sans" font-size="9.4" text-anchor="middle" fill="#222" stroke="#222" stroke-width="0.1">G</text><circle cx="259.4" cy="268.6" r="7.0" fill="#fff" stroke="#222" stroke-width="1.4"/><text x="259.4" y="271.90" font-family="Liberation Sans" font-size="9.4" text-anchor="middle" fill="#222" stroke="#222" stroke-width="0.1">E</text><circle cx="35.4" cy="273" r="7.0" fill="#fff" stroke="#222" stroke-width="1.4"/><text x="35.4" y="276.30" font-family="Liberation Sans" font-size="9.4" text-anchor="middle" fill="#222" stroke="#222" stroke-width="0.1">F</text><circle cx="314.6" cy="276.4" r="7.0" fill="#fff" stroke="#222" stroke-width="1.4"/><text x="314.6" y="279.70" font-family="Liberation Sans" font-size="9.4" text-anchor="middle" fill="#222" stroke="#222" stroke-width="0.1">F</text><circle cx="174.2" cy="306.2" r="7.0" fill="#fff" stroke="#222" stroke-width="1.4"/><text x="174.2" y="309.50" font-family="Liberation Sans" font-size="9.4" text-anchor="middle" fill="#222" stroke="#222" stroke-width="0.1">D</text><circle cx="93.4" cy="398.7" r="7.0" fill="#fff" stroke="#222" stroke-width="1.4"/><text x="93.4" y="402.00" font-family="Liberation Sans" font-size="9.4" text-anchor="middle" fill="#222" stroke="#222" stroke-width="0.1">C</text><circle cx="235.5" cy="398.7" r="7.0" fill="#fff" stroke="#222" stroke-width="1.4"/><text x="235.5" y="402.00" font-family="Liberation Sans" font-size="9.4" text-anchor="middle" fill="#222" stroke="#222" stroke-width="0.1">C</text></g><g transform="translate(0 0)"><path d="M74.6 537 C74.2 533.5 79 531.2 84 530.9 C87.5 530.7 88.4 533 88 536 C87.6 539.5 86.6 542.5 84.8 542.8 L76.5 542.3 C75.2 541.5 74.8 539.5 74.6 537 Z" fill="#fff" stroke="#555" stroke-width="0.85" stroke-linejoin="round"/><path d="M76 543.2 L84.8 544 C85.8 544.3 85.6 545.3 85.2 546.5 L72.3 589.4 L60.5 586 C60 581 61 577 63 573 C66 567 69.5 563 70.5 559.5 C71.5 555.5 71.6 550 73 546 C73.8 544.2 74.8 543.3 76 543.2 Z" fill="#fff" stroke="#555" stroke-width="0.85" stroke-linejoin="round"/><path d="M27.5 587.3 C33 584.4 50 584.2 60.5 585.8 L72.3 589.4 L69.2 597.3 C68.6 598.8 67.8 599.2 66.3 599.2 L29 599.2 C27.3 599.2 26.6 598.5 26.6 596.8 L26.6 590 C26.6 588.6 26.8 587.7 27.5 587.3 Z" fill="#fff" stroke="#555" stroke-width="0.85" stroke-linejoin="round"/></g><g transform="translate(75 0)"><path d="M74.6 537 C74.2 533.5 79 531.2 84 530.9 C87.5 530.7 88.4 533 88 536 C87.6 539.5 86.6 542.5 84.8 542.8 L76.5 542.3 C75.2 541.5 74.8 539.5 74.6 537 Z" fill="#fff" stroke="#555" stroke-width="0.85" stroke-linejoin="round"/><path d="M76 543.2 L84.8 544 C85.8 544.3 85.6 545.3 85.2 546.5 L72.3 589.4 L60.5 586 C60 581 61 577 63 573 C66 567 69.5 563 70.5 559.5 C71.5 555.5 71.6 550 73 546 C73.8 544.2 74.8 543.3 76 543.2 Z" fill="#fff" stroke="#555" stroke-width="0.85" stroke-linejoin="round"/><path d="M27.5 587.3 C33 584.4 50 584.2 60.5 585.8 L72.3 589.4 L69.2 597.3 C68.6 598.8 67.8 599.2 66.3 599.2 L29 599.2 C27.3 599.2 26.6 598.5 26.6 596.8 L26.6 590 C26.6 588.6 26.8 587.7 27.5 587.3 Z" fill="#fff" stroke="#555" stroke-width="0.85" stroke-linejoin="round"/></g><path d="M85.4 546 C87 565 97 582.5 115.8 582.6 C134 582.5 146 565 148.3 545.4" transform="translate(0 0)" fill="none" stroke="#111" stroke-width="1.9"/><path d="M101.5 540 L130.5 569 M130.5 540 L101.5 569" transform="translate(0 0)" stroke="#111" stroke-width="3.1"/><g transform="translate(210 0)"><path d="M74.6 537 C74.2 533.5 79 531.2 84 530.9 C87.5 530.7 88.4 533 88 536 C87.6 539.5 86.6 542.5 84.8 542.8 L76.5 542.3 C75.2 541.5 74.8 539.5 74.6 537 Z" fill="#fff" stroke="#555" stroke-width="0.85" stroke-linejoin="round"/><path d="M76 543.2 L84.8 544 C85.8 544.3 85.6 545.3 85.2 546.5 L72.3 589.4 L60.5 586 C60 581 61 577 63 573 C66 567 69.5 563 70.5 559.5 C71.5 555.5 71.6 550 73 546 C73.8 544.2 74.8 543.3 76 543.2 Z" fill="#fff" stroke="#555" stroke-width="0.85" stroke-linejoin="round"/><path d="M27.5 587.3 C33 584.4 50 584.2 60.5 585.8 L72.3 589.4 L69.2 597.3 C68.6 598.8 67.8 599.2 66.3 599.2 L29 599.2 C27.3 599.2 26.6 598.5 26.6 596.8 L26.6 590 C26.6 588.6 26.8 587.7 27.5 587.3 Z" fill="#fff" stroke="#555" stroke-width="0.85" stroke-linejoin="round"/></g><g transform="translate(285 0)"><path d="M74.6 537 C74.2 533.5 79 531.2 84 530.9 C87.5 530.7 88.4 533 88 536 C87.6 539.5 86.6 542.5 84.8 542.8 L76.5 542.3 C75.2 541.5 74.8 539.5 74.6 537 Z" fill="#fff" stroke="#555" stroke-width="0.85" stroke-linejoin="round"/><path d="M76 543.2 L84.8 544 C85.8 544.3 85.6 545.3 85.2 546.5 L72.3 589.4 L60.5 586 C60 581 61 577 63 573 C66 567 69.5 563 70.5 559.5 C71.5 555.5 71.6 550 73 546 C73.8 544.2 74.8 543.3 76 543.2 Z" fill="#fff" stroke="#555" stroke-width="0.85" stroke-linejoin="round"/><path d="M27.5 587.3 C33 584.4 50 584.2 60.5 585.8 L72.3 589.4 L69.2 597.3 C68.6 598.8 67.8 599.2 66.3 599.2 L29 599.2 C27.3 599.2 26.6 598.5 26.6 596.8 L26.6 590 C26.6 588.6 26.8 587.7 27.5 587.3 Z" fill="#fff" stroke="#555" stroke-width="0.85" stroke-linejoin="round"/></g><path d="M295.3 546.6 C296.5 568 300 583 313 583.8 C322 584.3 333 584 340 584.6 C344 584.8 346 583 348 579 C352 570 356 555 357.8 545.4" transform="translate(0 0)" fill="none" stroke="#111" stroke-width="1.9"/><g transform="translate(0 617.5)"><path d="M74.6 537 C74.2 533.5 79 531.2 84 530.9 C87.5 530.7 88.4 533 88 536 C87.6 539.5 86.6 542.5 84.8 542.8 L76.5 542.3 C75.2 541.5 74.8 539.5 74.6 537 Z" fill="#fff" stroke="#555" stroke-width="0.85" stroke-linejoin="round"/><path d="M76 543.2 L84.8 544 C85.8 544.3 85.6 545.3 85.2 546.5 L72.3 589.4 L60.5 586 C60 581 61 577 63 573 C66 567 69.5 563 70.5 559.5 C71.5 555.5 71.6 550 73 546 C73.8 544.2 74.8 543.3 76 543.2 Z" fill="#fff" stroke="#555" stroke-width="0.85" stroke-linejoin="round"/><path d="M27.5 587.3 C33 584.4 50 584.2 60.5 585.8 L72.3 589.4 L69.2 597.3 C68.6 598.8 67.8 599.2 66.3 599.2 L29 599.2 C27.3 599.2 26.6 598.5 26.6 596.8 L26.6 590 C26.6 588.6 26.8 587.7 27.5 587.3 Z" fill="#fff" stroke="#555" stroke-width="0.85" stroke-linejoin="round"/></g><g transform="translate(75 617.5)"><path d="M74.6 537 C74.2 533.5 79 531.2 84 530.9 C87.5 530.7 88.4 533 88 536 C87.6 539.5 86.6 542.5 84.8 542.8 L76.5 542.3 C75.2 541.5 74.8 539.5 74.6 537 Z" fill="#fff" stroke="#555" stroke-width="0.85" stroke-linejoin="round"/><path d="M76 543.2 L84.8 544 C85.8 544.3 85.6 545.3 85.2 546.5 L72.3 589.4 L60.5 586 C60 581 61 577 63 573 C66 567 69.5 563 70.5 559.5 C71.5 555.5 71.6 550 73 546 C73.8 544.2 74.8 543.3 76 543.2 Z" fill="#fff" stroke="#555" stroke-width="0.85" stroke-linejoin="round"/><path d="M27.5 587.3 C33 584.4 50 584.2 60.5 585.8 L72.3 589.4 L69.2 597.3 C68.6 598.8 67.8 599.2 66.3 599.2 L29 599.2 C27.3 599.2 26.6 598.5 26.6 596.8 L26.6 590 C26.6 588.6 26.8 587.7 27.5 587.3 Z" fill="#fff" stroke="#555" stroke-width="0.85" stroke-linejoin="round"/></g><path d="M85.4 546 C87 565 97 582.5 115.8 582.6 C134 582.5 146 565 148.3 545.4" transform="translate(0 617.5)" fill="none" stroke="#111" stroke-width="1.9"/><path d="M101.5 540 L130.5 569 M130.5 540 L101.5 569" transform="translate(0 617.5)" stroke="#111" stroke-width="3.1"/><g transform="translate(210 617.5)"><path d="M74.6 537 C74.2 533.5 79 531.2 84 530.9 C87.5 530.7 88.4 533 88 536 C87.6 539.5 86.6 542.5 84.8 542.8 L76.5 542.3 C75.2 541.5 74.8 539.5 74.6 537 Z" fill="#fff" stroke="#555" stroke-width="0.85" stroke-linejoin="round"/><path d="M76 543.2 L84.8 544 C85.8 544.3 85.6 545.3 85.2 546.5 L72.3 589.4 L60.5 586 C60 581 61 577 63 573 C66 567 69.5 563 70.5 559.5 C71.5 555.5 71.6 550 73 546 C73.8 544.2 74.8 543.3 76 543.2 Z" fill="#fff" stroke="#555" stroke-width="0.85" stroke-linejoin="round"/><path d="M27.5 587.3 C33 584.4 50 584.2 60.5 585.8 L72.3 589.4 L69.2 597.3 C68.6 598.8 67.8 599.2 66.3 599.2 L29 599.2 C27.3 599.2 26.6 598.5 26.6 596.8 L26.6 590 C26.6 588.6 26.8 587.7 27.5 587.3 Z" fill="#fff" stroke="#555" stroke-width="0.85" stroke-linejoin="round"/></g><g transform="translate(285 617.5)"><path d="M74.6 537 C74.2 533.5 79 531.2 84 530.9 C87.5 530.7 88.4 533 88 536 C87.6 539.5 86.6 542.5 84.8 542.8 L76.5 542.3 C75.2 541.5 74.8 539.5 74.6 537 Z" fill="#fff" stroke="#555" stroke-width="0.85" stroke-linejoin="round"/><path d="M76 543.2 L84.8 544 C85.8 544.3 85.6 545.3 85.2 546.5 L72.3 589.4 L60.5 586 C60 581 61 577 63 573 C66 567 69.5 563 70.5 559.5 C71.5 555.5 71.6 550 73 546 C73.8 544.2 74.8 543.3 76 543.2 Z" fill="#fff" stroke="#555" stroke-width="0.85" stroke-linejoin="round"/><path d="M27.5 587.3 C33 584.4 50 584.2 60.5 585.8 L72.3 589.4 L69.2 597.3 C68.6 598.8 67.8 599.2 66.3 599.2 L29 599.2 C27.3 599.2 26.6 598.5 26.6 596.8 L26.6 590 C26.6 588.6 26.8 587.7 27.5 587.3 Z" fill="#fff" stroke="#555" stroke-width="0.85" stroke-linejoin="round"/></g><path d="M295.3 546.6 C296.5 568 300 583 313 583.8 C322 584.3 333 584 340 584.6 C344 584.8 346 583 348 579 C352 570 356 555 357.8 545.4" transform="translate(0 617.5)" fill="none" stroke="#111" stroke-width="1.9"/><g transform="translate(0 0)"><path d="M816.3 307 L818.6 319.3 H828.6 L830.9 307" fill="none" stroke="#333" stroke-width="0.9"/><path d="M817 310.3 Q819 309 821 310.3 M826 310.3 Q828 309 830.3 310.3" fill="none" stroke="#333" stroke-width="0.7"/><path d="M818.6 312.8 L825.8 303.8 L829 305.6 L823.2 314.8 L821.6 316 L819.8 315.2 Z" fill="#1a1a1a"/><path d="M817.3 310.6 L820 307.4" stroke="#888" stroke-width="1"/><path d="M842 306.8 L848.4 319.5 H835.6 Z" fill="#111"/><path d="M833.3 309.2 L850.8 316.4 M833.3 316.4 L850.8 309.2" stroke="#222" stroke-width="0.9"/><rect x="854.3" y="307" width="13.3" height="12.4" rx="1.2" fill="none" stroke="#444" stroke-width="0.9"/><path d="M852.4 309.5 L869.6 316.6 M852.4 316.6 L869.6 309.5" stroke="#222" stroke-width="0.9"/><rect x="871.4" y="307" width="12.4" height="12.4" rx="1" fill="none" stroke="#444" stroke-width="0.9"/><path d="M874.7 309.5 V317 M877.6 309.5 V317 M880.5 309.5 V317" stroke="#333" stroke-width="0.8"/><path d="M892.5 307 H905 V319.4 H889.2 V314.5" fill="none" stroke="#444" stroke-width="0.9"/><path d="M887.6 309.5 L907 317 M887.6 317 L907 309.5" stroke="#222" stroke-width="0.9"/></g><g transform="translate(0.7 613.7)"><path d="M816.3 307 L818.6 319.3 H828.6 L830.9 307" fill="none" stroke="#333" stroke-width="0.9"/><path d="M817 310.3 Q819 309 821 310.3 M826 310.3 Q828 309 830.3 310.3" fill="none" stroke="#333" stroke-width="0.7"/><path d="M818.6 312.8 L825.8 303.8 L829 305.6 L823.2 314.8 L821.6 316 L819.8 315.2 Z" fill="#1a1a1a"/><path d="M817.3 310.6 L820 307.4" stroke="#888" stroke-width="1"/><path d="M842 306.8 L848.4 319.5 H835.6 Z" fill="#111"/><path d="M833.3 309.2 L850.8 316.4 M833.3 316.4 L850.8 309.2" stroke="#222" stroke-width="0.9"/><rect x="854.3" y="307" width="13.3" height="12.4" rx="1.2" fill="none" stroke="#444" stroke-width="0.9"/><path d="M852.4 309.5 L869.6 316.6 M852.4 316.6 L869.6 309.5" stroke="#222" stroke-width="0.9"/><rect x="871.4" y="307" width="12.4" height="12.4" rx="1" fill="none" stroke="#444" stroke-width="0.9"/><path d="M874.7 309.5 V317 M877.6 309.5 V317 M880.5 309.5 V317" stroke="#333" stroke-width="0.8"/><path d="M892.5 307 H905 V319.4 H889.2 V314.5" fill="none" stroke="#444" stroke-width="0.9"/><path d="M887.6 309.5 L907 317 M887.6 317 L907 309.5" stroke="#222" stroke-width="0.9"/></g>
</svg>
<div class="t" id="t0" style="left:494.93px;top:36.41px;font-size:12.4px;line-height:14.88px;color:#1c1c1c;font-weight:700;-webkit-text-stroke:0.35px #1c1c1c;transform:scaleX(1.1471);">Installation:</div>
<div class="t" id="t1" style="left:495.55px;top:56.31px;font-size:11.5px;line-height:13.80px;color:#3a3a3a;">1.</div>
<div class="t" id="t2" style="left:515.98px;top:56.31px;font-size:11.5px;line-height:13.80px;color:#3a3a3a;transform:scaleX(1.0444);">Clip the rear headrest straps (A) around each rear headrest.</div>
<div class="t" id="t3" style="left:495.80px;top:72.01px;font-size:11.5px;line-height:13.80px;color:#3a3a3a;">2.</div>
<div class="t" id="t4" style="left:515.98px;top:72.01px;font-size:11.5px;line-height:13.80px;color:#3a3a3a;transform:scaleX(1.0476);">Clip the front headrest straps (C) around each front headrest.</div>
<div class="t" id="t5" style="left:495.80px;top:87.60px;font-size:11.5px;line-height:13.80px;color:#3a3a3a;">3.</div>
<div class="t" id="t6" style="left:516.24px;top:87.60px;font-size:11.5px;line-height:13.80px;color:#3a3a3a;transform:scaleX(1.0443);">Tighten all straps so the bottom of the hammock sits flat on seat.</div>
<div class="t" id="t7" style="left:496.05px;top:103.60px;font-size:11.5px;line-height:13.80px;color:#3a3a3a;">4.</div>
<div class="t" id="t8" style="left:516.25px;top:103.60px;font-size:11.5px;line-height:13.80px;color:#3a3a3a;transform:scaleX(1.0179);">Tuck the Bench-Beans (E) into the crevice where the seat</div>
<div class="t" id="t9" style="left:515.72px;top:118.01px;font-size:11.5px;line-height:13.80px;color:#3a3a3a;transform:scaleX(1.0377);">base meets the seat back.</div>
<div class="t" id="t10" style="left:495.80px;top:133.60px;font-size:11.5px;line-height:13.80px;color:#3a3a3a;">5.</div>
<div class="t" id="t11" style="left:515.98px;top:133.60px;font-size:11.5px;line-height:13.80px;color:#3a3a3a;transform:scaleX(1.0422);">Stretch paracord (E) over left and right seat corner. Tighten as</div>
<div class="t" id="t12" style="left:515.74px;top:147.81px;font-size:11.5px;line-height:13.80px;color:#3a3a3a;transform:scaleX(1.0182);">necessary using the cord locks (F) on either end.</div>
<div class="t" id="t13" style="left:495.42px;top:175.21px;font-size:12.4px;line-height:14.88px;color:#1c1c1c;font-weight:700;-webkit-text-stroke:0.35px #1c1c1c;transform:scaleX(1.1261);">Other Uses:</div>
<div class="t" id="t14" style="left:494.67px;top:199.40px;font-size:11.5px;line-height:13.80px;color:#3a3a3a;transform:scaleX(1.0327);">Full Seat Cover: Do not connect the front headrest straps (C). Instead let the front</div>
<div class="t" id="t15" style="left:495.18px;top:215.31px;font-size:11.5px;line-height:13.80px;color:#3a3a3a;transform:scaleX(1.0380);">of the hammock rest on the floor.</div>
<div class="t" id="t16" style="left:495.17px;top:240.20px;font-size:11.5px;line-height:13.80px;color:#3a3a3a;transform:scaleX(1.0643);">Split Hammock Seat Cover: Unzip center zipper (D), and unclip one of the front</div>
<div class="t" id="t17" style="left:494.93px;top:256.20px;font-size:11.5px;line-height:13.80px;color:#3a3a3a;transform:scaleX(1.0296);">headrest straps (A) to allow dual use for dog and passenger</div>
<div class="t" id="t18" style="left:495.22px;top:313.71px;font-size:12.4px;line-height:14.88px;color:#1c1c1c;font-weight:700;-webkit-text-stroke:0.35px #1c1c1c;transform:scaleX(1.1081);">Cleaning Instructions:</div>
<div class="t" id="t19" style="left:494.94px;top:333.70px;font-size:11.5px;line-height:13.80px;color:#3a3a3a;transform:scaleX(1.1156);">Our product cleaning instructions will help ensure that your gear has a long,</div>
<div class="t" id="t20" style="left:494.98px;top:350.10px;font-size:11.5px;line-height:13.80px;color:#3a3a3a;transform:scaleX(1.0345);">exciting life. Washing by hand and hang air-drying is the best way to care for your</div>
<div class="t" id="t21" style="left:494.43px;top:365.90px;font-size:11.5px;line-height:13.80px;color:#3a3a3a;transform:scaleX(1.0662);">Kurgo products.</div>
<div class="t" id="t22" style="left:494.93px;top:406.51px;font-size:12.4px;line-height:14.88px;color:#1c1c1c;font-weight:700;-webkit-text-stroke:0.35px #1c1c1c;transform:scaleX(1.1354);">Hand Wash Instructions:</div>
<div class="t" id="t23" style="left:495.55px;top:426.90px;font-size:11.5px;line-height:13.80px;color:#3a3a3a;">1.</div>
<div class="t" id="t24" style="left:515.45px;top:426.90px;font-size:11.5px;line-height:13.80px;color:#3a3a3a;transform:scaleX(1.0543);">Brush off loose dirt with a dry brush.</div>
<div class="t" id="t25" style="left:495.80px;top:446.60px;font-size:11.5px;line-height:13.80px;color:#3a3a3a;">2.</div>
<div class="t" id="t26" style="left:515.99px;top:446.60px;font-size:11.5px;line-height:13.80px;color:#3a3a3a;transform:scaleX(1.0176);">Spot clean with a damp sponge, cold water, and mild soap.</div>
<div class="t" id="t27" style="left:516.50px;top:463.01px;font-size:11.5px;line-height:13.80px;color:#3a3a3a;transform:scaleX(1.0437);">Avoid harsh detergents.</div>
<div class="t" id="t28" style="left:495.80px;top:483.51px;font-size:11.5px;line-height:13.80px;color:#3a3a3a;">3.</div>
<div class="t" id="t29" style="left:515.47px;top:483.51px;font-size:11.5px;line-height:13.80px;color:#3a3a3a;transform:scaleX(1.0341);">If necessary, rinse larger area to eliminate excess soap residue.</div>
<div class="t" id="t30" style="left:496.05px;top:503.70px;font-size:11.5px;line-height:13.80px;color:#3a3a3a;">4.</div>
<div class="t" id="t31" style="left:515.46px;top:503.70px;font-size:11.5px;line-height:13.80px;color:#3a3a3a;transform:scaleX(1.0370);">Hang to air dry (do not machine dry).</div>
<div class="t" id="t32" style="left:494.94px;top:551.60px;font-size:12.4px;line-height:14.88px;color:#1c1c1c;font-weight:700;-webkit-text-stroke:0.35px #1c1c1c;transform:scaleX(1.1141);">Notice</div>
<div class="t" id="t33" style="left:537.30px;top:552.60px;font-size:11.5px;line-height:13.80px;color:#3a3a3a;">:</div>
<div class="t" id="t34" style="left:494.46px;top:576.31px;font-size:11.5px;line-height:13.80px;color:#3a3a3a;transform:scaleX(1.0447);">Please contact Kurgo directly with any product or warranty inquiries.</div>
<div class="t" id="t35" style="left:22.66px;top:474.52px;font-size:12px;line-height:14.40px;color:#2a2a2a;font-weight:700;transform:scaleX(1.1149);">Incorrect</div>
<div class="t" id="t36" style="left:23.25px;top:491.40px;font-size:11.5px;line-height:13.80px;color:#3a3a3a;transform:scaleX(1.0140);">The hammock should not hang</div>
<div class="t" id="t37" style="left:22.99px;top:507.10px;font-size:11.5px;line-height:13.80px;color:#3a3a3a;transform:scaleX(1.0236);">over the seat as shown here.</div>
<div class="t" id="t38" style="left:233.94px;top:474.52px;font-size:12px;line-height:14.40px;color:#2a2a2a;font-weight:700;transform:scaleX(1.1190);">Correct</div>
<div class="t" id="t39" style="left:234.24px;top:491.40px;font-size:11.5px;line-height:13.80px;color:#3a3a3a;transform:scaleX(1.0289);">The hammock should rest on</div>
<div class="t" id="t40" style="left:234.24px;top:507.10px;font-size:11.5px;line-height:13.80px;color:#3a3a3a;transform:scaleX(1.0228);">the seat fully as shown here.</div>
<div class="t" id="t41" style="left:495.12px;top:649.21px;font-size:12.4px;line-height:14.88px;color:#1c1c1c;font-weight:700;-webkit-text-stroke:0.35px #1c1c1c;transform:scaleX(1.1515);">Installation:</div>
<div class="t" id="t42" style="left:495.55px;top:669.40px;font-size:11.5px;line-height:13.80px;color:#3a3a3a;">1.</div>
<div class="t" id="t43" style="left:516.80px;top:669.40px;font-size:11.5px;line-height:13.80px;color:#3a3a3a;transform:scaleX(0.9399);">Attachez les sangles pour appuie-tête arrière (A) autour</div>
<div class="t" id="t44" style="left:516.33px;top:683.70px;font-size:11.5px;line-height:13.80px;color:#3a3a3a;transform:scaleX(0.9413);">de chaque appuie-tête arrière</div>
<div class="t" id="t45" style="left:495.80px;top:699.51px;font-size:11.5px;line-height:13.80px;color:#3a3a3a;">2.</div>
<div class="t" id="t46" style="left:516.80px;top:699.51px;font-size:11.5px;line-height:13.80px;color:#3a3a3a;transform:scaleX(0.9653);">Attachez les sangles pour appuie-tête avant (A) autour de chaque appuie-tête avant</div>
<div class="t" id="t47" style="left:495.80px;top:715.60px;font-size:11.5px;line-height:13.80px;color:#3a3a3a;">3.</div>
<div class="t" id="t48" style="left:516.29px;top:715.60px;font-size:11.5px;line-height:13.80px;color:#3a3a3a;transform:scaleX(1.0206);">Serrez toutes les sangles afin que le fond du hamac repose à plat sur le siège.</div>
<div class="t" id="t49" style="left:496.05px;top:731.01px;font-size:11.5px;line-height:13.80px;color:#3a3a3a;">4.</div>
<div class="t" id="t50" style="left:515.76px;top:731.01px;font-size:11.5px;line-height:13.80px;color:#3a3a3a;transform:scaleX(1.0363);">Rentrez les haricots de banquette (E) dans la fente où se rencontrent la base</div>
<div class="t" id="t51" style="left:516.29px;top:745.60px;font-size:11.5px;line-height:13.80px;color:#3a3a3a;transform:scaleX(1.0132);">du siège et le dossier.</div>
<div class="t" id="t52" style="left:495.80px;top:760.70px;font-size:11.5px;line-height:13.80px;color:#3a3a3a;">5.</div>
<div class="t" id="t53" style="left:515.76px;top:760.70px;font-size:11.5px;line-height:13.80px;color:#3a3a3a;transform:scaleX(1.0362);">Étirez la paracorde (E) par-dessus le coin gauche et droit du siège. Serrez au</div>
<div class="t" id="t54" style="left:516.04px;top:775.01px;font-size:11.5px;line-height:13.80px;color:#3a3a3a;transform:scaleX(1.0139);">besoin à l’aide des autobloqueurs (F) à l’une ou l’autre des extrémités.</div>
<div class="t" id="t55" style="left:495.70px;top:802.41px;font-size:12.4px;line-height:14.88px;color:#1c1c1c;font-weight:700;-webkit-text-stroke:0.35px #1c1c1c;transform:scaleX(1.1220);">Autres usages:</div>
<div class="t" id="t56" style="left:494.66px;top:822.31px;font-size:11.5px;line-height:13.80px;color:#3a3a3a;transform:scaleX(1.0422);">Housse de siège complète: Ne pas connecter les sangles pour appuie-tête avant</div>
<div class="t" id="t57" style="left:494.94px;top:838.40px;font-size:11.5px;line-height:13.80px;color:#3a3a3a;transform:scaleX(1.0081);">(C). Laissez plutôt le devant du hamac sur le sol.</div>
<div class="t" id="t58" style="left:494.70px;top:863.60px;font-size:11.5px;line-height:13.80px;color:#3a3a3a;transform:scaleX(0.9990);">Hamac et housse de siège: Ouvrez la fermeture à glissière (D) et détachez l’une des</div>
<div class="t" id="t59" style="left:495.46px;top:879.20px;font-size:11.5px;line-height:13.80px;color:#3a3a3a;transform:scaleX(0.9539);">sangles de l’appuie-tête avant (A) pour permettre le double usage pour chien et passager</div>
<div class="t" id="t60" style="left:495.73px;top:928.60px;font-size:12.4px;line-height:14.88px;color:#1c1c1c;font-weight:700;-webkit-text-stroke:0.35px #1c1c1c;transform:scaleX(1.1499);">Instructions d’entretien :</div>
<div class="t" id="t61" style="left:495.25px;top:952.31px;font-size:11.5px;line-height:13.80px;color:#3a3a3a;transform:scaleX(1.0547);">Nos instructions de nettoyage des produits vous assurent que votre équipement</div>
<div class="t" id="t62" style="left:495.78px;top:968.40px;font-size:11.5px;line-height:13.80px;color:#3a3a3a;transform:scaleX(1.0401);">aura une longue durée de vie. Laver à la main et suspendre pour sécher sont les</div>
<div class="t" id="t63" style="left:495.53px;top:983.90px;font-size:11.5px;line-height:13.80px;color:#3a3a3a;transform:scaleX(1.0279);">meilleurs moyens de prendre soin de vos produits Kurgo..</div>
<div class="t" id="t64" style="left:495.74px;top:1021.21px;font-size:12.4px;line-height:14.88px;color:#1c1c1c;font-weight:700;-webkit-text-stroke:0.35px #1c1c1c;transform:scaleX(1.1276);">Instructions de lavage à la main :</div>
<div class="t" id="t65" style="left:496.25px;top:1041.40px;font-size:11.5px;line-height:13.80px;color:#3a3a3a;">1.</div>
<div class="t" id="t66" style="left:516.48px;top:1041.40px;font-size:11.5px;line-height:13.80px;color:#3a3a3a;transform:scaleX(1.0175);">Brossez les déblais meubles avec une brosse sèche.</div>
<div class="t" id="t67" style="left:496.50px;top:1061.60px;font-size:11.5px;line-height:13.80px;color:#3a3a3a;">2.</div>
<div class="t" id="t68" style="left:516.49px;top:1061.60px;font-size:11.5px;line-height:13.80px;color:#3a3a3a;transform:scaleX(1.0063);">Enlevez les taches avec une éponge humide, de l’eau froide et un</div>
<div class="t" id="t69" style="left:517.24px;top:1076.01px;font-size:11.5px;line-height:13.80px;color:#3a3a3a;transform:scaleX(1.0276);">savon doux. Évitez les détergents forts.</div>
<div class="t" id="t70" style="left:496.50px;top:1091.10px;font-size:11.5px;line-height:13.80px;color:#3a3a3a;">3.</div>
<div class="t" id="t71" style="left:517.50px;top:1091.10px;font-size:11.5px;line-height:13.80px;color:#3a3a3a;transform:scaleX(1.0120);">Au besoin, rincez une plus grande surface pour éliminer l’excès de savon.</div>
<div class="t" id="t72" style="left:496.75px;top:1112.31px;font-size:11.5px;line-height:13.80px;color:#3a3a3a;">4.</div>
<div class="t" id="t73" style="left:516.99px;top:1112.31px;font-size:11.5px;line-height:13.80px;color:#3a3a3a;transform:scaleX(1.0195);">Suspendez l’article pour le sécher (ne pas sécher à la machine).</div>
<div class="t" id="t74" style="left:496.20px;top:1166.10px;font-size:12.4px;line-height:14.88px;color:#1c1c1c;font-weight:700;-webkit-text-stroke:0.35px #1c1c1c;transform:scaleX(0.9922);">Avis</div>
<div class="t" id="t75" style="left:521.30px;top:1167.10px;font-size:11.5px;line-height:13.80px;color:#3a3a3a;">:</div>
<div class="t" id="t76" style="left:496.20px;top:1190.40px;font-size:11.5px;line-height:13.80px;color:#3a3a3a;transform:scaleX(1.0279);">Veuillez communiquer toute demande concernant un produit</div>
<div class="t" id="t77" style="left:495.68px;top:1206.20px;font-size:11.5px;line-height:13.80px;color:#3a3a3a;transform:scaleX(1.0417);">ou sa garantie directement à Kurgo.</div>
<div class="t" id="t78" style="left:22.97px;top:1091.52px;font-size:12px;line-height:14.40px;color:#2a2a2a;font-weight:700;transform:scaleX(1.1089);">Incorrect</div>
<div class="t" id="t79" style="left:22.77px;top:1108.20px;font-size:11.5px;line-height:13.80px;color:#3a3a3a;transform:scaleX(1.0269);">Le hamac ne doit pas être suspendu</div>
<div class="t" id="t80" style="left:23.30px;top:1123.70px;font-size:11.5px;line-height:13.80px;color:#3a3a3a;transform:scaleX(1.0077);">au-dessus du siège tel qu’illustré ici.</div>
<div class="t" id="t81" style="left:234.14px;top:1091.52px;font-size:12px;line-height:14.40px;color:#2a2a2a;font-weight:700;transform:scaleX(1.1190);">Correct</div>
<div class="t" id="t82" style="left:233.66px;top:1108.20px;font-size:11.5px;line-height:13.80px;color:#3a3a3a;transform:scaleX(1.0400);">Le hamac doit reposer complètement</div>
<div class="t" id="t83" style="left:234.45px;top:1123.70px;font-size:11.5px;line-height:13.80px;color:#3a3a3a;transform:scaleX(1.0176);">sur le siège, tel qu’illustré ici.</div>
<div class="t" id="t84" style="left:36.65px;top:23.80px;font-size:20.8px;line-height:24.96px;color:#ffffff;letter-spacing:1.234px;-webkit-text-stroke:0.65px #fff;">EN - INSTRUCTIONS AND CARE</div>
<div class="t" id="t85" style="left:435.47px;top:31.02px;font-size:12px;line-height:14.40px;color:#ffffff;font-style:italic;transform:scaleX(1.0638);">9-18</div>
<div class="t" id="t86" style="left:36.25px;top:637.31px;font-size:20.3px;line-height:24.36px;color:#ffffff;letter-spacing:1.316px;-webkit-text-stroke:0.65px #fff;">FR - INSTRUCTIONS ET ENTRETIEN</div>
<div class="t" id="t87" style="left:436.47px;top:643.71px;font-size:12px;line-height:14.40px;color:#ffffff;font-style:italic;transform:scaleX(1.0511);">9-18</div>
</body></html>
